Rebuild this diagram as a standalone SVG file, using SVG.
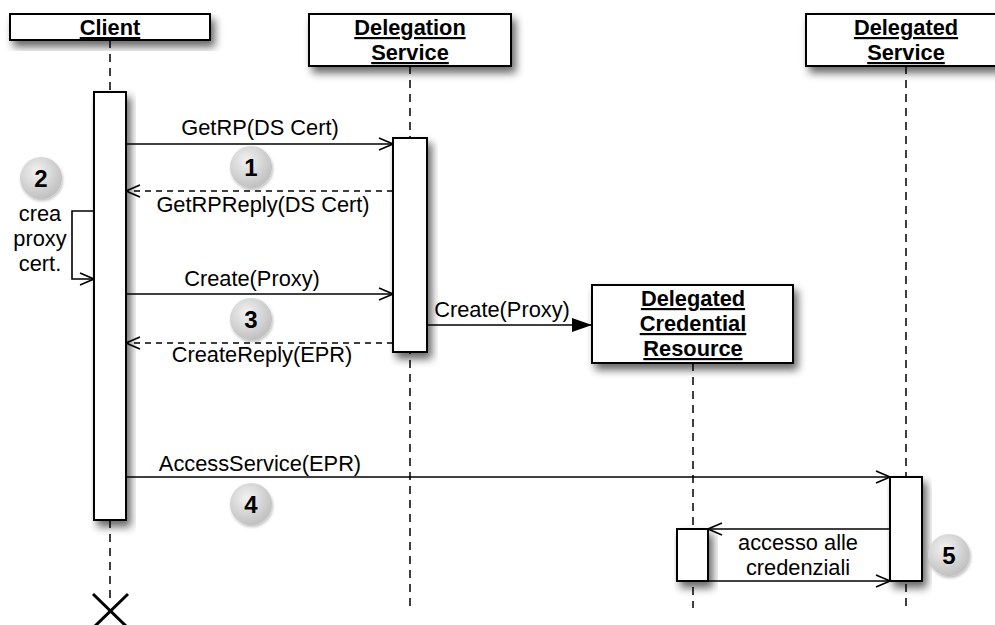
<svg xmlns="http://www.w3.org/2000/svg" width="995" height="625" viewBox="0 0 995 625">
<defs>
<style>
text{font-family:"Liberation Sans",Arial,sans-serif;fill:#000}
.hdr{font-size:21.8px;font-weight:bold;text-anchor:middle;text-decoration:underline}
.lbl{font-size:21.8px}
.mid{text-anchor:middle}
.num{font-size:24px;font-weight:bold;text-anchor:middle}
.box{fill:#fff;stroke:#000;stroke-width:2}
.life{stroke:#000;stroke-width:1.5;stroke-dasharray:8 6;fill:none}
.msg{stroke:#000;stroke-width:1.6;fill:none}
.ret{stroke:#000;stroke-width:1.6;fill:none;stroke-dasharray:6 5}
</style>
<filter id="sh" x="-20%" y="-20%" width="150%" height="160%">
<feGaussianBlur in="SourceAlpha" stdDeviation="4"/>
<feOffset dx="4" dy="6" result="b"/>
<feComponentTransfer><feFuncA type="linear" slope="0.6"/></feComponentTransfer>
<feMerge><feMergeNode/><feMergeNode in="SourceGraphic"/></feMerge>
</filter>
<filter id="csh" x="-30%" y="-30%" width="170%" height="170%">
<feGaussianBlur in="SourceAlpha" stdDeviation="1.5"/>
<feOffset dx="1" dy="1.5"/>
<feComponentTransfer><feFuncA type="linear" slope="0.25"/></feComponentTransfer>
<feMerge><feMergeNode/><feMergeNode in="SourceGraphic"/></feMerge>
</filter>
<radialGradient id="cg" cx="0.4" cy="0.35" r="0.7">
<stop offset="0" stop-color="#f2f2f2"/>
<stop offset="1" stop-color="#bdbdbd"/>
</radialGradient>
<marker id="open" viewBox="0 0 16 14" refX="15" refY="7" markerWidth="16" markerHeight="14" markerUnits="userSpaceOnUse" orient="auto">
<path d="M1,1 L15,7 L1,13" fill="none" stroke="#000" stroke-width="1.6"/>
</marker>
<marker id="fill" viewBox="0 0 20 14" refX="20" refY="7" markerWidth="20" markerHeight="14" markerUnits="userSpaceOnUse" orient="auto">
<path d="M0,0 L20,7 L0,14 Z" fill="#000"/>
</marker>
</defs>

<g id="lifelines">
<line class="life" x1="110" y1="40" x2="110" y2="92"/>
<line class="life" x1="110" y1="520" x2="110" y2="600"/>
<line class="life" x1="410" y1="66" x2="410" y2="608"/>
<line class="life" x1="693" y1="363" x2="693" y2="608"/>
<line class="life" x1="906" y1="66" x2="906" y2="608"/>
</g>

<g id="client">
<rect class="box" x="10" y="14" width="200" height="26" filter="url(#sh)"/>
<text class="hdr" x="110" y="35">Client</text>
</g>
<g id="delegation-service">
<rect class="box" x="309" y="14" width="202" height="52" filter="url(#sh)"/>
<text class="hdr" x="410" y="35">Delegation</text>
<text class="hdr" x="410" y="60">Service</text>
</g>
<g id="delegated-service">
<rect class="box" x="806" y="14" width="200" height="52" filter="url(#sh)"/>
<text class="hdr" x="906" y="35">Delegated</text>
<text class="hdr" x="906" y="60">Service</text>
</g>
<g id="delegated-credential-resource">
<rect class="box" x="592" y="285" width="201" height="78" filter="url(#sh)"/>
<text class="hdr" x="693" y="306">Delegated</text>
<text class="hdr" x="693" y="331">Credential</text>
<text class="hdr" x="693" y="356">Resource</text>
</g>

<g id="activations">
<rect id="act-client" class="box" x="94" y="92" width="32" height="428" filter="url(#sh)"/>
<rect id="act-ds" class="box" x="393" y="138" width="34" height="214" filter="url(#sh)"/>
<rect id="act-dsv" class="box" x="890" y="477" width="32" height="104" filter="url(#sh)"/>
<rect id="act-dcr" class="box" x="677" y="529" width="31" height="52" filter="url(#sh)"/>
</g>

<g id="connectors">
<line class="msg" x1="126" y1="144" x2="393" y2="144" marker-end="url(#open)"/>
<line class="ret" x1="393" y1="191" x2="126" y2="191" marker-end="url(#open)"/>
<polyline class="msg" points="94,211 72,211 72,279 94,279" marker-end="url(#open)"/>
<line class="msg" x1="126" y1="294" x2="393" y2="294" marker-end="url(#open)"/>
<line class="ret" x1="393" y1="343" x2="126" y2="343" marker-end="url(#open)"/>
<line class="msg" x1="427" y1="325" x2="592" y2="325" marker-end="url(#fill)"/>
<line class="msg" x1="126" y1="477" x2="890" y2="477" marker-end="url(#open)"/>
<line class="msg" x1="890" y1="529" x2="708" y2="529" marker-end="url(#open)"/>
<line class="msg" x1="708" y1="581" x2="890" y2="581" marker-end="url(#open)"/>
<path d="M93,594 L128,628 M128,594 L93,628" stroke="#000" stroke-width="3" fill="none"/>
</g>

<g id="labels">
<text class="lbl mid" x="260" y="135">GetRP(DS Cert)</text>
<text class="lbl mid" x="263" y="212">GetRPReply(DS Cert)</text>
<text class="lbl mid" x="40" y="221">crea</text>
<text class="lbl mid" x="40" y="246">proxy</text>
<text class="lbl mid" x="40" y="271">cert.</text>
<text class="lbl mid" x="252" y="286">Create(Proxy)</text>
<text class="lbl mid" x="262" y="362">CreateReply(EPR)</text>
<text class="lbl mid" x="502" y="317">Create(Proxy)</text>
<text class="lbl mid" x="260" y="471">AccessService(EPR)</text>
<text class="lbl mid" x="798" y="550">accesso alle</text>
<text class="lbl mid" x="798" y="575">credenziali</text>
</g>

<g id="steps">
<g id="step1"><circle cx="251" cy="167" r="21" fill="url(#cg)" filter="url(#csh)"/><text class="num" x="251" y="176">1</text></g>
<g id="step2"><circle cx="41" cy="178" r="21" fill="url(#cg)" filter="url(#csh)"/><text class="num" x="41" y="187">2</text></g>
<g id="step3"><circle cx="251" cy="319" r="21" fill="url(#cg)" filter="url(#csh)"/><text class="num" x="251" y="328">3</text></g>
<g id="step4"><circle cx="251" cy="504" r="21" fill="url(#cg)" filter="url(#csh)"/><text class="num" x="251" y="513">4</text></g>
<g id="step5"><circle cx="949" cy="555" r="21" fill="url(#cg)" filter="url(#csh)"/><text class="num" x="949" y="564">5</text></g>
</g>
</svg>
